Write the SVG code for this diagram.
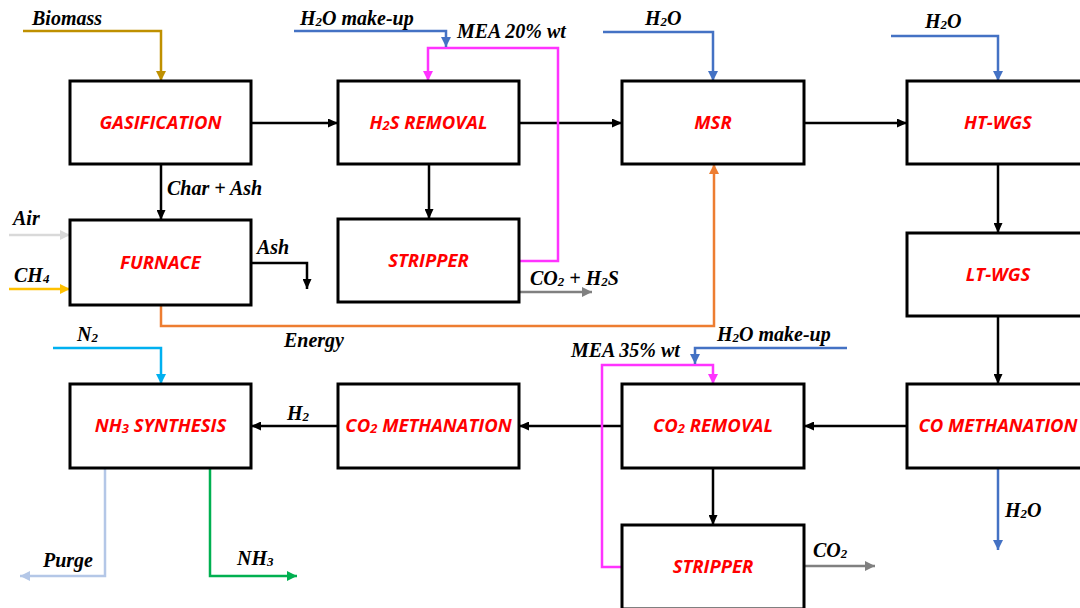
<svg xmlns="http://www.w3.org/2000/svg" width="1080" height="608" viewBox="0 0 1080 608">
<style>
.box{fill:#fff;stroke:#000;stroke-width:3}
.bt{font-family:"Open Sans","Liberation Sans",sans-serif;font-weight:bold;font-style:italic;font-size:18.5px;fill:#FF0000;text-anchor:middle}
.lb{font-family:"Liberation Serif","Times New Roman",serif;font-weight:bold;font-style:italic;font-size:20px;fill:#000}
.sub{font-size:13px}
.bsub{font-size:13px}
.c{fill:none;stroke-width:2.5}
</style>
<defs>
<marker id="aK" markerUnits="userSpaceOnUse" markerWidth="10" markerHeight="9" refX="10" refY="4.5" orient="auto"><path d="M0,0 L10,4.5 L0,9 z" fill="#000"/></marker>
<marker id="aGold" markerUnits="userSpaceOnUse" markerWidth="10" markerHeight="10" refX="10" refY="5" orient="auto"><path d="M0,0 L10,5 L0,10 z" fill="#BF9000"/></marker>
<marker id="aB" markerUnits="userSpaceOnUse" markerWidth="10" markerHeight="10" refX="10" refY="5" orient="auto"><path d="M0,0 L10,5 L0,10 z" fill="#4472C4"/></marker>
<marker id="aM" markerUnits="userSpaceOnUse" markerWidth="10" markerHeight="10" refX="10" refY="5" orient="auto"><path d="M0,0 L10,5 L0,10 z" fill="#FF33FF"/></marker>
<marker id="aO" markerUnits="userSpaceOnUse" markerWidth="10" markerHeight="10" refX="10" refY="5" orient="auto"><path d="M0,0 L10,5 L0,10 z" fill="#ED7D31"/></marker>
<marker id="aG" markerUnits="userSpaceOnUse" markerWidth="10" markerHeight="10" refX="10" refY="5" orient="auto"><path d="M0,0 L10,5 L0,10 z" fill="#808080"/></marker>
<marker id="aLG" markerUnits="userSpaceOnUse" markerWidth="10" markerHeight="10" refX="10" refY="5" orient="auto"><path d="M0,0 L10,5 L0,10 z" fill="#D9D9D9"/></marker>
<marker id="aY" markerUnits="userSpaceOnUse" markerWidth="10" markerHeight="10" refX="10" refY="5" orient="auto"><path d="M0,0 L10,5 L0,10 z" fill="#FFC000"/></marker>
<marker id="aN" markerUnits="userSpaceOnUse" markerWidth="10" markerHeight="10" refX="10" refY="5" orient="auto"><path d="M0,0 L10,5 L0,10 z" fill="#00B0F0"/></marker>
<marker id="aP" markerUnits="userSpaceOnUse" markerWidth="10" markerHeight="10" refX="10" refY="5" orient="auto"><path d="M0,0 L10,5 L0,10 z" fill="#B4C7E7"/></marker>
<marker id="aGr" markerUnits="userSpaceOnUse" markerWidth="10" markerHeight="10" refX="10" refY="5" orient="auto"><path d="M0,0 L10,5 L0,10 z" fill="#00B050"/></marker>
</defs>
<rect width="1080" height="608" fill="#fff"/>

<g id="connectors">
<path class="c" stroke="#BF9000" d="M23,31 H161 V81" marker-end="url(#aGold)"/>
<path class="c" stroke="#000" d="M251,123 H338" marker-end="url(#aK)"/>
<path class="c" stroke="#000" d="M161,164 V220" marker-end="url(#aK)"/>
<path class="c" stroke="#D9D9D9" d="M9,235 H70" marker-end="url(#aLG)"/>
<path class="c" stroke="#FFC000" d="M9,289 H70" marker-end="url(#aY)"/>
<path class="c" stroke="#000" d="M251,263 H307 V289" marker-end="url(#aK)"/>
<path class="c" stroke="#ED7D31" d="M161,305 V326 H714 V164" marker-end="url(#aO)"/>
<path class="c" stroke="#000" d="M429,164 V219" marker-end="url(#aK)"/>
<path class="c" stroke="#000" d="M519,123 H622" marker-end="url(#aK)"/>
<path class="c" stroke="#FF33FF" d="M519,261 H558 V48 H428 V81" marker-end="url(#aM)"/>
<path class="c" stroke="#4472C4" d="M294,31 H446 V47" marker-end="url(#aB)"/>
<path class="c" stroke="#808080" d="M519,292 H592" marker-end="url(#aG)"/>
<path class="c" stroke="#4472C4" d="M603,32 H713 V81" marker-end="url(#aB)"/>
<path class="c" stroke="#000" d="M804,123 H907" marker-end="url(#aK)"/>
<path class="c" stroke="#4472C4" d="M891,36 H998 V81" marker-end="url(#aB)"/>
<path class="c" stroke="#000" d="M998,164 V233" marker-end="url(#aK)"/>
<path class="c" stroke="#000" d="M998,316 V384" marker-end="url(#aK)"/>
<path class="c" stroke="#000" d="M907,426 H804" marker-end="url(#aK)"/>
<path class="c" stroke="#4472C4" d="M998,468 V550" marker-end="url(#aB)"/>
<path class="c" stroke="#000" d="M622,426 H519" marker-end="url(#aK)"/>
<path class="c" stroke="#000" d="M713,468 V525" marker-end="url(#aK)"/>
<path class="c" stroke="#FF33FF" d="M622,567 H602 V365 H713 V384" marker-end="url(#aM)"/>
<path class="c" stroke="#4472C4" d="M847,348 H695 V364" marker-end="url(#aB)"/>
<path class="c" stroke="#808080" d="M804,566 H875" marker-end="url(#aG)"/>
<path class="c" stroke="#000" d="M338,426 H251" marker-end="url(#aK)"/>
<path class="c" stroke="#00B0F0" d="M53,348 H161 V384" marker-end="url(#aN)"/>
<path class="c" stroke="#B4C7E7" d="M105,468 V576 H20" marker-end="url(#aP)"/>
<path class="c" stroke="#00B050" d="M210,468 V576 H297" marker-end="url(#aGr)"/>
</g>

<g id="gasification"><rect class="box" x="70" y="81" width="181" height="83"/><text class="bt" x="160.5" y="129">GASIFICATION</text></g>
<g id="h2s-removal"><rect class="box" x="338" y="81" width="181" height="83"/><text class="bt" x="428.5" y="129">H<tspan class="bsub" dy="1">2</tspan><tspan dy="-1">S REMOVAL</tspan></text></g>
<g id="msr"><rect class="box" x="622" y="81" width="182" height="83"/><text class="bt" x="713" y="129">MSR</text></g>
<g id="ht-wgs"><rect class="box" x="907" y="81" width="182" height="83"/><text class="bt" x="998" y="129">HT-WGS</text></g>
<g id="furnace"><rect class="box" x="70" y="220" width="181" height="85"/><text class="bt" x="160.5" y="269">FURNACE</text></g>
<g id="stripper1"><rect class="box" x="338" y="219" width="181" height="83"/><text class="bt" x="428.5" y="267">STRIPPER</text></g>
<g id="lt-wgs"><rect class="box" x="907" y="233" width="182" height="83"/><text class="bt" x="998" y="281">LT-WGS</text></g>
<g id="co-methanation"><rect class="box" x="907" y="384" width="182" height="84"/><text class="bt" x="998" y="432">CO METHANATION</text></g>
<g id="co2-removal"><rect class="box" x="622" y="384" width="182" height="84"/><text class="bt" x="713" y="432">CO<tspan class="bsub" dy="1">2</tspan><tspan dy="-1"> REMOVAL</tspan></text></g>
<g id="co2-methanation"><rect class="box" x="338" y="384" width="181" height="84"/><text class="bt" x="428.5" y="432">CO<tspan class="bsub" dy="1">2</tspan><tspan dy="-1"> METHANATION</tspan></text></g>
<g id="nh3-synthesis"><rect class="box" x="70" y="384" width="181" height="84"/><text class="bt" x="160.5" y="432">NH<tspan class="bsub" dy="1">3</tspan><tspan dy="-1"> SYNTHESIS</tspan></text></g>
<g id="stripper2"><rect class="box" x="622" y="525" width="182" height="84"/><text class="bt" x="713" y="573">STRIPPER</text></g>

<g id="labels">
<text class="lb" x="32" y="25">Biomass</text>
<text class="lb" x="300" y="25">H<tspan class="sub" dy="1">2</tspan><tspan dy="-1">O make-up</tspan></text>
<text class="lb" x="457" y="38">MEA 20% wt</text>
<text class="lb" x="645" y="25">H<tspan class="sub" dy="1">2</tspan><tspan dy="-1">O</tspan></text>
<text class="lb" x="925" y="28">H<tspan class="sub" dy="1">2</tspan><tspan dy="-1">O</tspan></text>
<text class="lb" x="167" y="195">Char + Ash</text>
<text class="lb" x="13" y="225">Air</text>
<text class="lb" x="14" y="282">CH<tspan class="sub" dy="1">4</tspan></text>
<text class="lb" x="257" y="254">Ash</text>
<text class="lb" x="530" y="285">CO<tspan class="sub" dy="1">2</tspan><tspan dy="-1"> + H</tspan><tspan class="sub" dy="1">2</tspan><tspan dy="-1">S</tspan></text>
<text class="lb" x="284" y="347">Energy</text>
<text class="lb" x="717" y="341">H<tspan class="sub" dy="1">2</tspan><tspan dy="-1">O make-up</tspan></text>
<text class="lb" x="571" y="357">MEA 35% wt</text>
<text class="lb" x="77" y="341">N<tspan class="sub" dy="1">2</tspan></text>
<text class="lb" x="287" y="420">H<tspan class="sub" dy="1">2</tspan></text>
<text class="lb" x="1005" y="517">H<tspan class="sub" dy="1">2</tspan><tspan dy="-1">O</tspan></text>
<text class="lb" x="813" y="557">CO<tspan class="sub" dy="1">2</tspan></text>
<text class="lb" x="43" y="567">Purge</text>
<text class="lb" x="237" y="565">NH<tspan class="sub" dy="1">3</tspan></text>
</g>
</svg>
